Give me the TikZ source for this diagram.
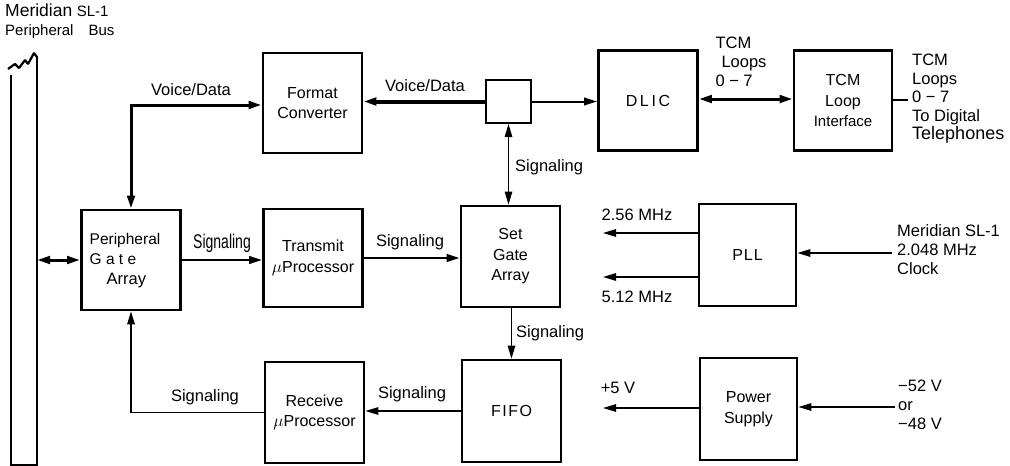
\documentclass[tikz,border=0pt]{standalone}
\usepackage{fontspec}
\usepackage{graphicx}
\setmainfont{Liberation Sans}
\usetikzlibrary{arrows.meta, positioning}

\begin{document}
\begin{tikzpicture}[x=1pt, y=-1pt,
		>={Triangle[length=13pt, width=7.5pt]},
		blk/.style={draw, line width=2.8pt, minimum width=99pt, minimum height=100pt, inner sep=0pt, align=center, font=\fontsize{16}{20.5}\selectfont},
		heavy/.style={line width=3pt},
		light/.style={line width=1.4pt},
		lbl/.style={inner sep=0pt, align=left, font=\fontsize{16.5}{19}\selectfont}]
			\useasboundingbox (0,0) rectangle (1010,466);
			% Bus:
			\draw[line width=2pt] (11,75) |- (11,465) -| (37,466) -- (37,56);
			\draw[line width=2.2pt, line join=bevel] (8,69) -- (15,64) -- (19,68) -- (25,60) -- (28,64) -- (34,53) -- (37,57);
			\node[lbl, anchor=north west] (title) at (5,4) {{\fontsize{17.5}{21}\selectfont Meridian} {\fontsize{15}{21}\selectfont SL-1}\\{\fontsize{15}{21}\selectfont Peripheral\quad Bus}};
			\coordinate (busR) at (37,260);
			% Blocks:
			\node[blk] (fmt) at (312.5,103) {Format\\Converter};
			\node[blk, minimum width=45pt, minimum height=43pt, line width=2pt] (tap) at (508.5,101.5) {};
			\node[blk] (dlic) at (648,100.5) {D\,L\,I\,C};
			\node[blk, minimum width=98pt] (tli) at (843,100.5) {TCM\\Loop\\{\fontsize{15}{20.5}\selectfont Interface}};
			\node[blk, font=\fontsize{15.5}{20}\selectfont] (pga) at (131,260) {\begin{tabular}{@{}l@{}}Peripheral\hspace*{12pt}\\G a t e\\\hspace*{17pt}{\fontsize{16.5}{20}\selectfont Array}\end{tabular}};
			\node[blk, minimum height=98pt] (tx) at (313,258) {Transmit\\$\mu$Processor};
			\node[blk, minimum height=101pt] (sga) at (510.5,256.5) {Set\\Gate\\Array};
			\node[blk, minimum width=97pt, minimum height=102pt] (pll) at (747.5,255) {P\kern1ptL\kern1ptL};
			\node[blk, minimum height=102pt] (fifo) at (511.5,411) {F\kern1.5ptI\kern1.5ptF\kern1.5ptO};
			\node[blk, minimum height=101pt] (rx) at (314.5,412.5) {Receive\\$\mu$Processor};
			\node[blk, minimum width=97pt, minimum height=102pt] (psu) at (748.5,409) {Power\\Supply};
			% Free ends:
			\coordinate (tcmEnd) at (908,100);
			\coordinate (f256) at (603,233);
			\coordinate (f512) at (603,277);
			\coordinate (clk) at (892,253);
			\coordinate (v5) at (603,408);
			\coordinate (vin) at (895,407);
			% Connectors:
			\draw[heavy, <->] (busR) -- (pga.west);
			\draw[heavy, <->] (fmt.west |- 0,105) -| (pga.north);
			\draw[line width=4pt, ->] (tap.west) -- (fmt.east |- tap.west);
			\draw[line width=2pt, ->] (tap.east) -- (dlic.west |- tap.east);
			\draw[heavy, <->] (dlic.east |- 0,99) -- (tli.west |- 0,99);
			\draw[light] (tli.east |- tcmEnd) -- (tcmEnd);
			\draw[line width=1.2pt, <->] (tap.south) -- (tap.south |- sga.north);
			\draw[line width=2.4pt, ->] (pga.east) -- (tx.west |- pga.east);
			\draw[line width=2.4pt, ->] (tx.east) -- (sga.west |- tx.east);
			\draw[light, ->] (sga.south -| fifo.north) -- (fifo.north);
			\draw[light, ->] (fifo.west) -- (rx.east |- fifo.west);
			\draw[light, ->] (rx.west) -| (pga.south);
			\draw[light, ->] (pll.west |- f256) -- (f256);
			\draw[light, ->] (pll.west |- f512) -- (f512);
			\draw[light, ->] (clk) -- (clk -| pll.east);
			\draw[light, ->] (psu.west |- v5) -- (v5);
			\draw[light, ->] (vin) -- (vin -| psu.east);
			% Labels:
			\node[lbl] (vdL) at (191,90) {Voice/Data};
			\node[lbl] (vdR) at (425,86) {Voice/Data};
			\node[lbl] (tcmL) at (741,62) {TCM\\\hspace*{6pt}Loops\\0 − 7};
			\node[lbl, anchor=west, font=\fontsize{16.5}{18.5}\selectfont] (tcmR) at (912,99) {TCM\\Loops\\0 − 7\\To Digital\\{\fontsize{18}{18.5}\selectfont Telephones}};
			\node[lbl, anchor=west] (sigTap) at (515,167) {Signaling};
			\node[lbl] (sigPga) at (222,243) {\scalebox{0.85}[1.2]{Signaling}};
			\node[lbl] (sigTx) at (410,242) {Signaling};
			\node[lbl, anchor=west] (sigSga) at (516,333) {Signaling};
			\node[lbl] (sigFifo) at (412,394) {Signaling};
			\node[lbl] (sigRx) at (205,397) {Signaling};
			\node[lbl] (f256l) at (637,215) {2.56 MHz};
			\node[lbl] (f512l) at (637,297) {5.12 MHz};
			\node[lbl, anchor=west] (clkl) at (897,250) {Meridian SL-1\\2.048 MHz\\Clock};
			\node[lbl] (v5l) at (618,388) {+5 V};
			\node[lbl, anchor=west] (vinl) at (898,405) {−52 V\\or\\−48 V};
		\end{tikzpicture}
\end{document}
